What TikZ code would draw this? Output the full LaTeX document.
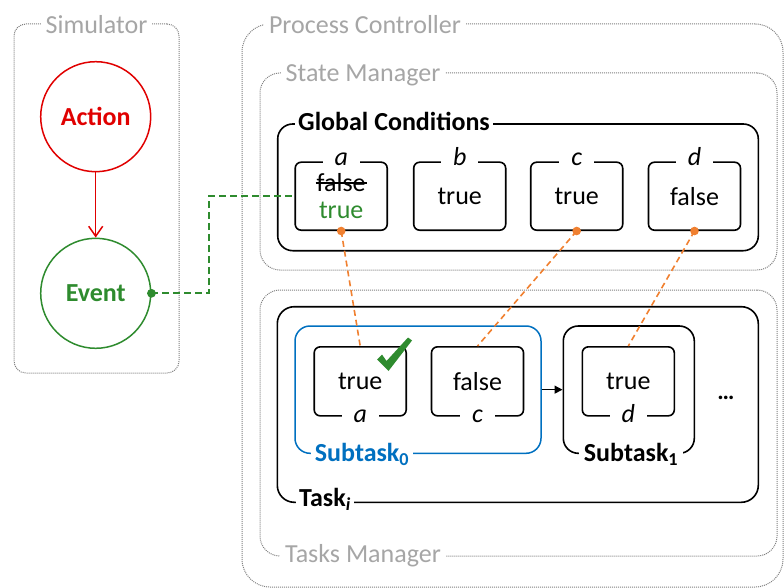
\documentclass[tikz,border=0pt]{standalone}
\usepackage{fontspec}
\setmainfont{Carlito}
\usetikzlibrary{arrows.meta}
\definecolor{actred}{HTML}{E00000}
\definecolor{evgreen}{HTML}{2E8B2E}
\definecolor{subblue}{HTML}{0070C0}
\definecolor{linkorange}{HTML}{F08030}
\definecolor{framegray}{HTML}{808080}
\definecolor{labelgray}{HTML}{A6A6A6}
\begin{document}
\begin{tikzpicture}[x=1pt,y=-1pt,
  font=\fontsize{26pt}{30pt}\selectfont,
  frame/.style={draw=framegray, line width=1pt, dash pattern=on 1pt off 1pt, rounded corners=#1, inner sep=0pt},
  framelabel/.style={anchor=base, fill=white, text=labelgray, inner xsep=5pt, inner ysep=3pt},
  solidbox/.style={draw, line width=1.6pt, rounded corners=#1, inner sep=0pt},
  cond/.style={solidbox=6pt, minimum width=92pt, minimum height=68pt},
  tcond/.style={solidbox=6pt, minimum width=92pt, minimum height=69pt},
  varlabel/.style={anchor=base, fill=white, font=\fontsize{26pt}{30pt}\selectfont\itshape, inner xsep=12pt, inner ysep=2pt},
  boldlabel/.style={anchor=base, fill=white, font=\fontsize{26pt}{30pt}\selectfont\bfseries, inner xsep=3pt, inner ysep=2pt},
  orangelink/.style={draw=linkorange, line width=1.6pt, dash pattern=on 6pt off 4pt},
  greenlink/.style={draw=evgreen, line width=1.8pt, dash pattern=on 7pt off 4pt},
]
\useasboundingbox (0,0) rectangle (784,588);

% outer dotted frames
\node[frame=12pt, minimum width=165pt, minimum height=349pt] (sim) at (96.5,198.5) {};
\node[framelabel] (simlbl) at (96.5,33.5) {Simulator};
\node[frame=28pt, minimum width=541pt, minimum height=563pt] (pc) at (512.5,305.5) {};
\node[framelabel] (pclbl) at (365,33.5) {Process Controller};
\node[frame=20pt, minimum width=517pt, minimum height=197pt] (sm) at (518.5,171.5) {};
\node[framelabel] (smlbl) at (363,81.5) {State Manager};
\node[frame=20pt, minimum width=517pt, minimum height=266pt] (tm) at (518.5,423) {};
\node[framelabel] (tmlbl) at (363,562) {Tasks Manager};

% simulator
\node[circle, draw=actred, line width=1.5pt, minimum size=110pt, inner sep=0pt, text=actred, font=\fontsize{26pt}{30pt}\selectfont\bfseries] (act) at (95.7,116.7) {Action};
\node[circle, draw=evgreen, line width=1.5pt, minimum size=110pt, inner sep=0pt, text=evgreen, font=\fontsize{26pt}{30pt}\selectfont\bfseries] (ev) at (95.7,293.3) {Event};
\draw[actred, line width=1.5pt, -{Straight Barb[length=10pt,width=14pt]}] (act) -- (ev);

% global conditions
\node[solidbox=15pt, minimum width=480.6pt, minimum height=126.7pt] (gcond) at (518,187.35) {};
\node[boldlabel] (gclbl) at (394,131) {Global Conditions};
\node[cond] (ga) at (341.2,196.2) {};
\node[cond] (gb) at (459.7,196.2) {true};
\node[cond] (gc) at (576.7,196.2) {true};
\node[cond] (gd) at (694.5,196.2) {false};
\node[varlabel] (lga) at (341.2,165.5) {a};
\node[varlabel] (lgb) at (459.7,165.5) {b};
\node[varlabel] (lgc) at (576.7,165.5) {c};
\node[varlabel] (lgd) at (694.5,165.5) {d};
\node[anchor=base, inner sep=0pt] (fa) at (341.2,191.7) {false};
\draw[line width=1.7pt] ([xshift=-1pt,yshift=8.4pt]fa.base west) -- ([xshift=1pt,yshift=8.4pt]fa.base east);
\node[anchor=base, inner sep=0pt, text=evgreen] (ta0) at (341.2,218.3) {true};

% tasks
\node[solidbox=17pt, minimum width=481pt, minimum height=195.6pt] (task) at (517.8,404.5) {};
\node[boldlabel] (tasklbl) at (325,506.7) {Task\textsubscript{\itshape i}};
\node[solidbox=15pt, draw=subblue, line width=1.5pt, minimum width=246pt, minimum height=127.3pt] (st0) at (418,389.65) {};
\node[boldlabel, text=subblue, inner xsep=4pt] (st0lbl) at (362,461.7) {Subtask\textsubscript{0}};
\node[solidbox=15pt, minimum width=131pt, minimum height=127.3pt] (st1) at (628.8,389.65) {};
\node[boldlabel, inner xsep=5pt] (st1lbl) at (631,461.7) {Subtask\textsubscript{1}};
\node[tcond] (ta) at (360.2,381.35) {true};
\node[tcond] (tc) at (477.5,381.35) {false};
\node[tcond] (td) at (628.3,381.35) {true};
\node[varlabel] (lta) at (360.2,422.7) {a};
\node[varlabel] (ltc) at (477.5,422.7) {c};
\node[varlabel] (ltd) at (628.3,422.7) {d};
\draw[line width=1.4pt, -{Triangle[length=8pt,width=8pt]}] (st0) -- (st1);
\node[anchor=base, font=\fontsize{24pt}{28pt}\selectfont\bfseries] (more) at (726,399) {…};

% check mark
\fill[evgreen] (377,359.5) -- (382,354.5) -- (386.5,361) -- (408,337.5) -- (412,340.5) -- (388.5,371) -- cycle;

% links
\draw[orangelink] (ga.south) -- (ta.north);
\draw[orangelink] (gc.south) -- (tc.north);
\draw[orangelink] (gd.south) -- (td.north);
\fill[linkorange] (ga.south) circle (4.3pt);
\fill[linkorange] (gc.south) circle (4.3pt);
\fill[linkorange] (gd.south) circle (4.3pt);
\coordinate (bend) at (209.3,293.3);
\draw[greenlink] (ev.east) -- (bend) |- (ga.west);
\fill[evgreen] (ev.east) circle (4.4pt);
\end{tikzpicture}
\end{document}
